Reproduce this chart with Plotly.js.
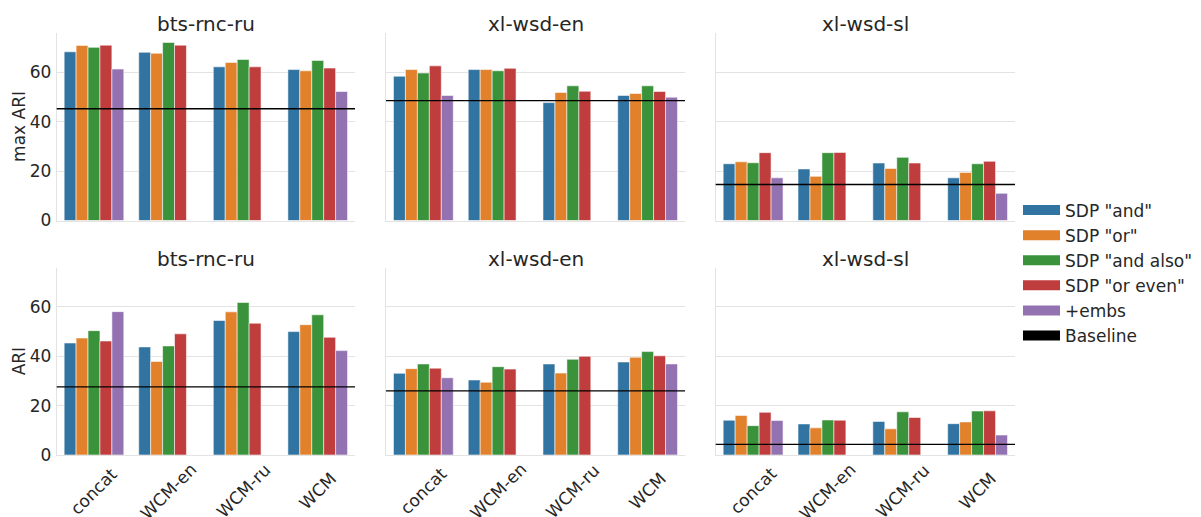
<!DOCTYPE html>
<html>
<head>
<meta charset="utf-8">
<script src="https://cdn.plot.ly/plotly-3.0.1.min.js"></script>
<style>html,body{margin:0;padding:0;background:#fff;}#chart{width:1201px;height:517px;}</style>
</head>
<body>
<div id="chart"></div>
<script>
const categories = ["concat", "WCM-en", "WCM-ru", "WCM"];
const seriesNames = ['SDP "and"', 'SDP "or"', 'SDP "and also"', 'SDP "or even"', '+embs'];
const seriesColors = ["#3274a1", "#e1812c", "#3a923a", "#c03d3e", "#9372b2"];
const baselineName = "Baseline";
const panelTitles = ["bts-rnc-ru", "xl-wsd-en", "xl-wsd-sl"];
const rowLabels = ["max ARI", "ARI"];
const yTicks = [0, 20, 40, 60];

// rows: SDP "and", SDP "or", SDP "and also", SDP "or even", +embs ; columns follow categories
const maxAriBts = [
  [68.4, 68.2, 62.3, 61.2],
  [71.0, 67.8, 64.1, 60.7],
  [70.2, 72.2, 65.3, 64.9],
  [71.1, 71.1, 62.3, 61.8],
  [61.4, null, null, 52.3]
];
const maxAriWsdEn = [
  [58.5, 61.2, 47.8, 50.7],
  [61.2, 61.2, 51.9, 51.5],
  [59.8, 60.7, 54.6, 54.6],
  [62.7, 61.7, 52.4, 52.3],
  [50.7, null, null, 50.0]
];
const maxAriWsdSl = [
  [23.0, 20.9, 23.3, 17.3],
  [23.8, 17.9, 21.1, 19.5],
  [23.4, 27.5, 25.6, 23.0],
  [27.5, 27.6, 23.3, 24.0],
  [17.3, null, null, 11.0]
];
const ariBts = [
  [45.4, 43.8, 54.5, 50.0],
  [47.4, 37.9, 58.0, 52.8],
  [50.4, 44.2, 61.8, 56.8],
  [46.2, 49.1, 53.4, 47.7],
  [58.1, null, null, 42.3]
];
const ariWsdEn = [
  [33.1, 30.4, 36.9, 37.7],
  [35.0, 29.5, 33.2, 39.6],
  [36.9, 35.8, 38.8, 41.9],
  [35.2, 34.8, 40.0, 40.2],
  [31.3, null, null, 36.9]
];
const ariWsdSl = [
  [14.1, 12.6, 13.6, 12.7],
  [16.0, 11.0, 10.6, 13.4],
  [11.9, 14.2, 17.5, 17.8],
  [17.3, 14.1, 15.2, 17.9],
  [14.0, null, null, 8.1]
];
const maxAriBaselines = [45.3, 48.6, 14.6];
const ariBaselines = [27.6, 26.0, 4.3];

const panels = [maxAriBts, maxAriWsdEn, maxAriWsdSl, ariBts, ariWsdEn, ariWsdSl];
const baselines = maxAriBaselines.concat(ariBaselines);

const W = 1201, H = 517;
const colPx = [[56.7, 355], [386, 685], [715.7, 1015]];
const rowPx = [[33.3, 220.5], [267.7, 455]];
const yMax = 75.9;
const textColor = "#262626";
const gridColor = "#e3e3e3";
const FONT = "DejaVu Sans, sans-serif";

const traces = [];
const layout = {
  width: W, height: H,
  margin: {l: 0, r: 0, t: 0, b: 0},
  paper_bgcolor: "#fff", plot_bgcolor: "#fff",
  barmode: "group", bargap: 0.2, bargroupgap: 0,
  font: {family: FONT, color: textColor, size: 17},
  showlegend: true,
  legend: {x: 1018 / W, xanchor: "left", y: 1 - 273 / H, yanchor: "middle",
           font: {size: 17, color: textColor}, bgcolor: "rgba(0,0,0,0)",
           itemwidth: 37, tracegroupgap: 0, traceorder: "normal"},
  shapes: [], annotations: []
};

panels.forEach((panel, p) => {
  const row = Math.floor(p / 3), col = p % 3;
  const idx = p + 1;
  const xa = "x" + (idx === 1 ? "" : idx), ya = "y" + (idx === 1 ? "" : idx);
  const xKey = "xaxis" + (idx === 1 ? "" : idx), yKey = "yaxis" + (idx === 1 ? "" : idx);
  panel.forEach((vals, s) => {
    traces.push({
      type: "bar", x: categories, y: vals, xaxis: xa, yaxis: ya,
      name: seriesNames[s], showlegend: false,
      marker: {color: seriesColors[s], line: {color: "rgba(255,255,255,0.55)", width: 1}},
      hoverinfo: "skip"
    });
  });
  layout[xKey] = {
    domain: [colPx[col][0] / W, colPx[col][1] / W],
    anchor: ya, type: "category", range: [-0.5, 3.5],
    showgrid: false, zeroline: false, showline: true, linecolor: gridColor, linewidth: 1,
    ticks: "", showticklabels: false, fixedrange: true
  };
  layout[yKey] = {
    domain: [1 - rowPx[row][1] / H, 1 - rowPx[row][0] / H],
    anchor: xa, range: [0, yMax], tickvals: yTicks,
    showgrid: true, gridcolor: gridColor, gridwidth: 1, zeroline: false,
    showline: true, linecolor: gridColor, linewidth: 1, ticks: "",
    showticklabels: col === 0, tickfont: {size: 17, color: textColor, family: FONT},
    ticklabelstandoff: 1, fixedrange: true
  };
  layout.shapes.push({
    type: "line", xref: xa + " domain", yref: ya, x0: 0, x1: 1,
    y0: baselines[p], y1: baselines[p], line: {color: "#000", width: 1.3}
  });
  layout.annotations.push({
    xref: "paper", yref: "paper", showarrow: false,
    x: (colPx[col][0] + colPx[col][1]) / 2 / W,
    y: 1 - (row === 0 ? 24 : 259) / H, yanchor: "middle", xanchor: "center",
    text: panelTitles[col], font: {size: 20, color: textColor, family: FONT}
  });
  if (col === 0) {
    layout.annotations.push({
      xref: "paper", yref: "paper", showarrow: false, textangle: -90,
      x: 19 / W, y: 1 - (rowPx[row][0] + rowPx[row][1]) / 2 / H,
      xanchor: "center", yanchor: "middle",
      text: rowLabels[row], font: {size: 17, color: textColor, family: FONT}
    });
  }
  if (row === 1) {
    categories.forEach((c) => {
      layout.annotations.push({
        xref: xa, yref: "paper", showarrow: false, textangle: -45,
        x: c, y: 1 - 491 / H, xanchor: "center", yanchor: "middle",
        text: c, font: {size: 17, color: textColor, family: FONT}
      });
    });
  }
});

// legend proxies (seaborn-style wide rectangles)
seriesNames.concat([baselineName]).forEach((n, s) => {
  traces.push({
    type: "scatter", mode: "lines", x: [null], y: [null], xaxis: "x", yaxis: "y",
    name: n, showlegend: true,
    line: {color: s < seriesColors.length ? seriesColors[s] : "#000", width: 12},
    hoverinfo: "skip"
  });
});

Plotly.newPlot("chart", traces, layout, {displayModeBar: false, staticPlot: true});
</script>
</body>
</html>
